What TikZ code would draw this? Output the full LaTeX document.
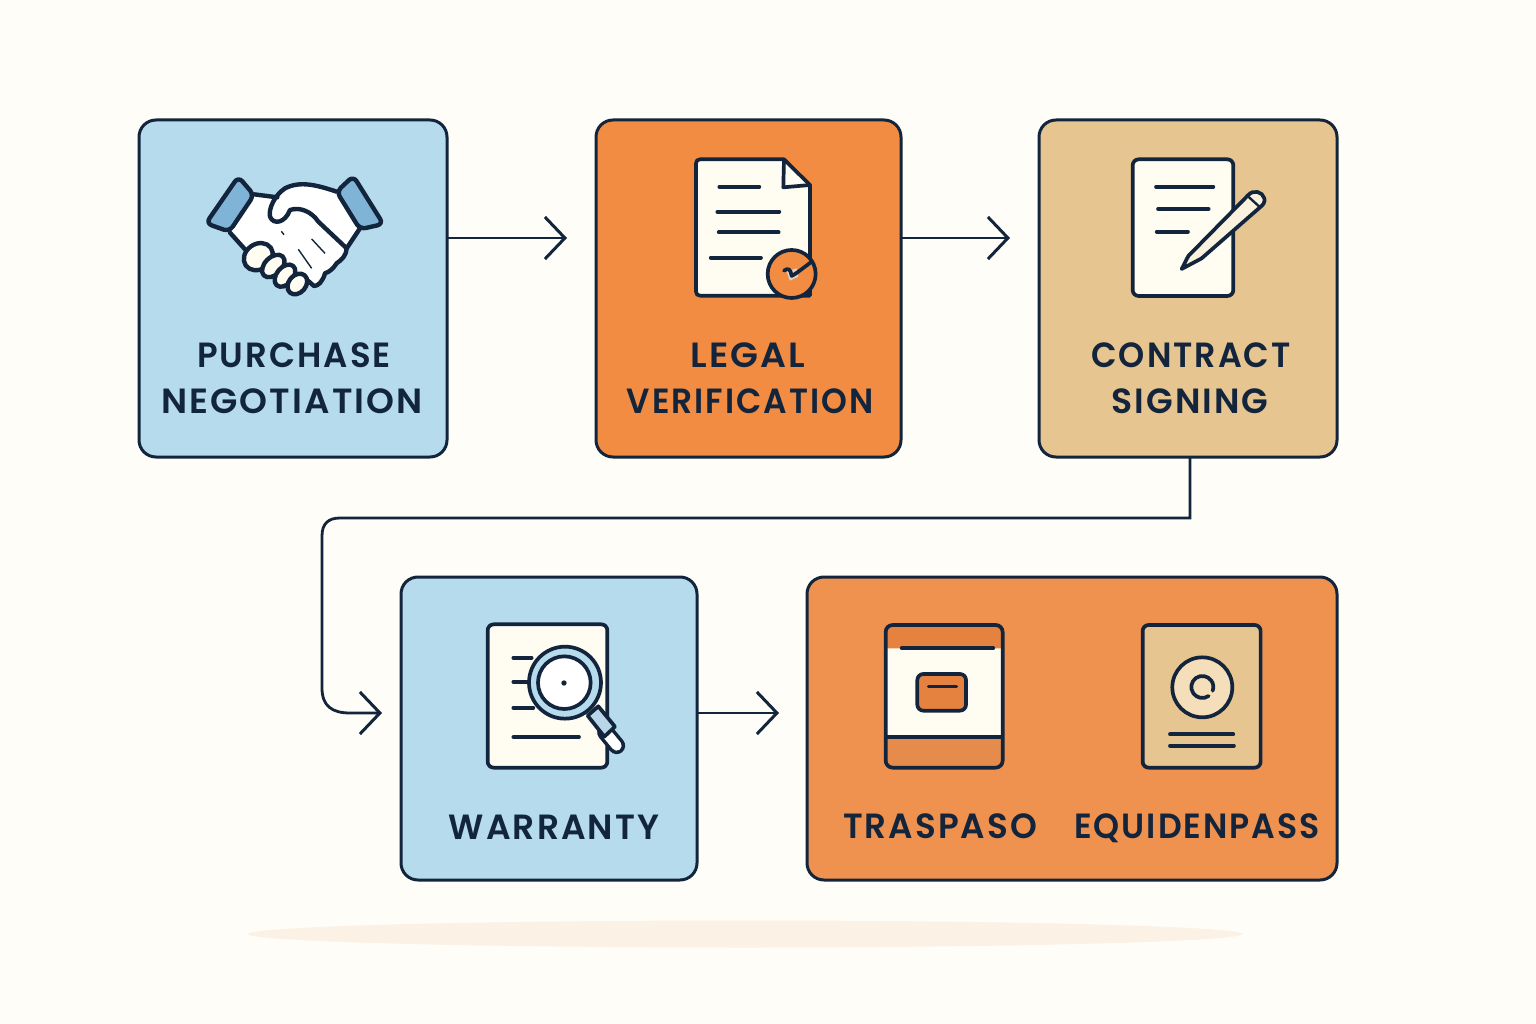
\documentclass[tikz,border=0pt]{standalone}
\usepackage{graphicx}
\usepackage{fontspec}
\usetikzlibrary{arrows.meta,shapes.geometric}
\newfontfamily\lab{Poppins}[UprightFont=* SemiBold,LetterSpace=6]
\definecolor{bgc}{HTML}{FFFDF7}
\definecolor{ink}{HTML}{13253C}
\definecolor{bluec}{HTML}{B5DBED}
\definecolor{cuffc}{HTML}{7FB4D6}
\definecolor{orangec}{HTML}{F28C42}
\definecolor{orangeb}{HTML}{EF914F}
\definecolor{orangei}{HTML}{E5823F}
\definecolor{tanc}{HTML}{E7C590}
\definecolor{tanl}{HTML}{F5DFBA}
\definecolor{paper}{HTML}{FFFCF2}
\definecolor{shadowc}{HTML}{FBF2E5}
\tikzset{
  card/.style={draw=ink,line width=3pt,rounded corners=17pt,inner sep=0pt,outer sep=0pt,anchor=north west},
  label/.style={font=\lab\fontsize{35}{40}\selectfont,text=ink,inner sep=0pt,outer sep=0pt,anchor=center,text height=25pt,text depth=0pt},
  flow/.style={draw=ink,line width=2.8pt,-{Straight Barb[length=20pt,width=42pt,line width=3pt]}},
  ic/.style={draw=ink,line width=3.7pt,line join=round,line cap=round},
  ich/.style={draw=ink,line width=4.4pt,line join=round,line cap=round},
  iconz/.style={x=0.3333pt,y=-0.3333pt},
}
\begin{document}
\begin{tikzpicture}[x=1pt,y=-1pt]
\useasboundingbox (0,0) rectangle (1536,1024);
\fill[bgc] (0,0) rectangle (1536,1024);
\node[ellipse,fill=shadowc,minimum width=994pt,minimum height=27pt,inner sep=0pt] (shadow) at (745,934) {};
% cards
\node[card,fill=bluec,minimum width=308pt,minimum height=337pt] (a) at (139,120) {};
\node[card,fill=orangec,minimum width=305pt,minimum height=337pt] (b) at (596,120) {};
\node[card,fill=tanc,minimum width=298pt,minimum height=337pt] (c) at (1039,120) {};
\node[card,fill=bluec,minimum width=296pt,minimum height=303pt] (d) at (401,577) {};
\node[card,fill=orangeb,minimum width=530pt,minimum height=303pt] (e) at (807,577) {};
% labels
\node[label] (l1) at (294,355) {\scalebox{0.97}[1]{PURCHASE}};
\node[label] (l2) at (292,401) {\scalebox{1.015}[1]{NEGOTIATION}};
\node[label] (l3) at (748,355) {\scalebox{1.035}[1]{LEGAL}};
\node[label] (l4) at (750,401) {\scalebox{0.94}[1]{VERIFICATION}};
\node[label] (l5) at (1191,355) {\scalebox{0.952}[1]{CONTRACT}};
\node[label] (l6) at (1190,401) {\scalebox{0.99}[1]{SIGNING}};
\node[label] (l7) at (554,827) {\scalebox{0.985}[1]{WARRANTY}};
\node[label] (l8) at (940,826) {\scalebox{0.975}[1]{TRASPASO}};
\node[label] (l9) at (1197,826) {\scalebox{0.946}[1]{EQUIDENPASS}};
% connectors
\coordinate (ab) at (567,238);
\coordinate (bc) at (1010,238);
\coordinate (de) at (779,713);
\coordinate (cd) at (382,713);
\coordinate (cdt) at (1190,518);
\draw[flow] (a.east |- ab) -- (ab);
\draw[flow] (b.east |- bc) -- (bc);
\draw[flow] (d.east |- de) -- (de);
\draw[flow] (c.south -| cdt) -- (cdt) -- (340,518) .. controls (328,518) and (322,524) .. (322,536) -- (322,688) .. controls (322,706) and (332,713) .. (350,713) -- (cd);
% handshake
\begin{scope}[shift={(190,160)},iconz]
\fill[white] (190,105) -- (262,110) .. controls (300,72) and (380,62) .. (440,95) -- (510,205) -- (470,265) -- (440,310) -- (405,340) -- (372,378) -- (340,360) -- (300,375) -- (200,320) -- (165,268) -- (120,218) -- cycle;
\draw[ich,fill=cuffc,rounded corners=6pt] (145,50) -- (48,190) -- (118,215) -- (192,105) -- cycle;
\draw[ich,fill=cuffc,rounded corners=6pt] (490,48) -- (440,95) -- (510,208) -- (580,192) -- cycle;
\draw[ich] (192,103) -- (262,112);
\draw[ich] (120,218) -- (165,268);
\draw[ich] (440,95) .. controls (380,75) and (330,62) .. (285,85) .. controls (255,105) and (235,145) .. (240,170) .. controls (250,195) and (285,190) .. (300,150) .. controls (330,140) and (365,155) .. (385,185) -- (470,265) .. controls (470,285) and (455,300) .. (440,310) .. controls (430,325) and (420,335) .. (405,340) .. controls (398,365) and (385,378) .. (372,378) -- (340,350);
\draw[ich] (470,265) -- (510,205);
\draw[ich,fill=paper,rotate around={35:(205,290)}] (205,290) ellipse [x radius=46,y radius=38];
\draw[ich,fill=paper,rotate around={45:(250,318)}] (250,318) ellipse [x radius=40,y radius=26];
\draw[ich,fill=paper,rotate around={50:(285,347)}] (285,347) ellipse [x radius=38,y radius=25];
\draw[ich,fill=paper,rotate around={50:(322,372)}] (322,372) ellipse [x radius=34,y radius=26];
\draw[ink,line width=1.4pt] (274,214) -- (282,224) (365,237) -- (405,280) (325,268) -- (365,325);
\end{scope}
% legal doc
\begin{scope}[shift={(680,150)},iconz]
\draw[ic,fill=paper] (60,28) -- (312,28) -- (390,105) -- (390,340) -- (390,437) -- (60,437) .. controls (52,437) and (48,432) .. (48,425) -- (48,40) .. controls (48,33) and (52,28) .. (60,28) -- cycle;
\draw[ic] (312,30) -- (310,112) -- (390,105);
\draw[ic] (118,110) -- (238,110) (112,185) -- (298,185) (116,247) -- (296,247) (92,323) -- (243,323);
\draw[ic,fill=orangec] (335,372) circle [radius=72];
\fill[paper!85!black] (320,365) -- (350,355) -- (355,380) -- (330,392) -- cycle;
\draw[ic] (312,362) .. controls (325,352) and (332,358) .. (335,378) .. controls (350,370) and (375,350) .. (395,335);
\end{scope}
% contract doc
\begin{scope}[shift={(1120,150)},iconz]
\draw[ic,fill=paper,rounded corners=6pt] (38,28) rectangle (340,438);
\draw[ic] (108,110) -- (280,110) (114,177) -- (266,177) (110,245) -- (204,245);
\draw[ic,fill=paper!80!tanc] (185,357) -- (205,318) -- (385,135) .. controls (400,118) and (428,125) .. (433,145) .. controls (436,155) and (430,165) .. (420,172) -- (245,325) -- cycle;
\draw[ic,line width=2.4pt] (385,140) -- (418,170);
\end{scope}
% warranty doc
\begin{scope}[shift={(475,615)},iconz]
\draw[ic,fill=paper,rounded corners=6pt] (38,28) rectangle (397,458);
\draw[ic] (115,128) -- (170,128) (115,200) -- (160,200) (115,278) -- (175,278) (115,366) -- (312,366);
\draw[ink,line width=17pt,line cap=round] (392,352) -- (425,392);
\draw[white,line width=10pt,line cap=round] (392,352) -- (425,392);
\draw[ic,fill=cuffc!55!white] (338,302) -- (370,274) -- (420,335) -- (388,365) -- cycle;
\draw[ic,fill=bluec] (270,203) circle [radius=108];
\draw[ic,fill=white] (268,203) circle [radius=79];
\fill[ink] (267,204) circle [radius=8];
\end{scope}
% traspaso and equidenpass
\begin{scope}[shift={(870,615)},iconz]
\fill[paper,rounded corners=6pt] (47,30) rectangle (398,458);
\fill[orangei] (50,100) -- (50,50) .. controls (50,38) and (58,32) .. (70,32) -- (375,32) .. controls (387,32) and (395,38) .. (395,50) -- (395,100) -- cycle;
\fill[orangeb!96!black] (50,365) -- (395,365) -- (395,440) .. controls (395,452) and (385,455) .. (375,455) -- (70,455) .. controls (60,455) and (50,452) .. (50,440) -- cycle;
\draw[ic,rounded corners=7pt] (47,30) rectangle (398,458);
\draw[ic] (95,100) -- (370,100) (50,365) -- (395,365);
\draw[ic,fill=orangei,rounded corners=6pt] (142,177) rectangle (288,287);
\draw[ic,line width=3pt] (175,215) -- (260,215);
\draw[ic,fill=tanc,rounded corners=6pt] (818,30) rectangle (1172,458);
\draw[ic,fill=tanl] (997,217) circle [radius=90];
\draw[ic] (1016,243) arc [start angle=55,end angle=380,x radius=33,y radius=33];
\draw[ic] (900,358) -- (1090,358) (900,392) -- (1092,392);
\end{scope}
\end{tikzpicture}
\end{document}
